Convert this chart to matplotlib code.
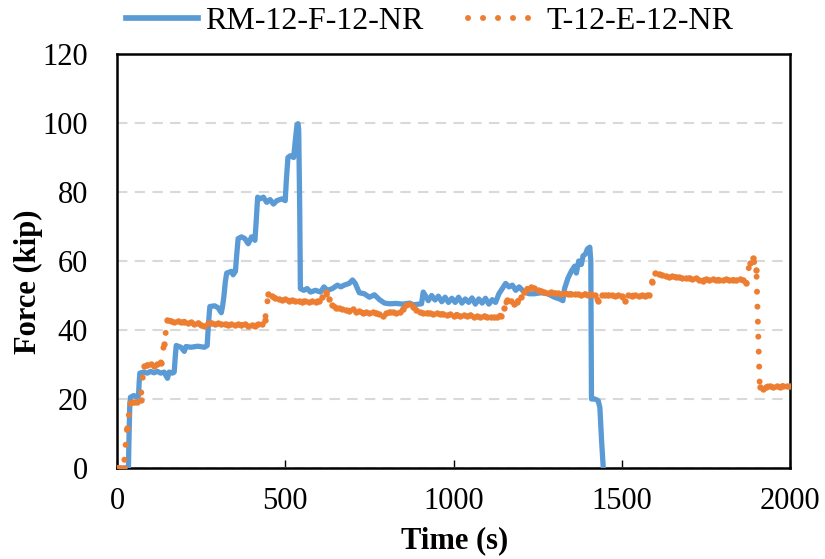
import numpy as np
import matplotlib
matplotlib.use("Agg")
import matplotlib.pyplot as plt
from matplotlib.lines import Line2D

plt.rcParams['font.family'] = ['Liberation Serif', 'DejaVu Serif']

# RM-12-F-12-NR load history (time in s, force in kip)
rm_time = [0, 30, 34, 36, 38, 40, 50, 60, 64, 66, 68, 80, 90, 100, 110, 120, 130, 140, 150, 155,
           165, 170, 173, 176, 190, 200, 205, 220, 240, 260, 268, 272, 276, 290, 300, 310, 314, 318, 322, 326,
           340, 345, 352, 356, 360, 370, 380, 390, 400, 410, 414, 418, 425, 435, 445, 455, 465, 475, 490, 500,
           503, 508, 515, 525, 530, 535, 538, 540, 543, 545, 555, 565, 575, 590, 605, 615, 625, 640, 655, 665,
           675, 690, 700, 708, 720, 735, 750, 765, 780, 795, 810, 830, 850, 870, 880, 905, 910, 915, 925, 935,
           945, 955, 965, 975, 985, 995, 1005, 1015, 1025, 1035, 1045, 1055, 1065, 1075, 1085, 1095, 1105, 1115, 1125, 1135,
           1145, 1155, 1165, 1175, 1185, 1195, 1210, 1225, 1240, 1260, 1280, 1300, 1315, 1325, 1330, 1340, 1350, 1360, 1365, 1372,
           1380, 1385, 1392, 1398, 1405, 1408, 1410, 1420, 1430, 1435, 1440, 1445]
rm_force = [0, 0, 0, 10, 18, 20.5, 21, 20.5, 21, 25, 27.5, 27.8, 27.5, 28, 27.6, 28, 27.5, 27.8, 26, 27.8,
            27.5, 27.8, 32, 35.5, 35, 33.8, 35.2, 35, 35.3, 35, 35.5, 42, 46.8, 47, 46.5, 45, 47, 50, 54, 56.5,
            57, 56, 57, 62, 66.5, 67, 66.5, 65, 67, 66, 72, 78.5, 78, 78.5, 77, 77.8, 76.5, 77.5, 78, 77.5,
            83, 90, 90.5, 90, 95, 99.5, 99.8, 98, 75, 52, 51.5, 52, 51, 51.5, 51, 52.5, 51.5, 52, 53, 52.5,
            53, 53.5, 54.5, 53.5, 50.8, 50.5, 49.5, 50.2, 48.8, 47.8, 47.6, 47.7, 47.5, 47.8, 47.3, 47.6, 51, 50.2, 48.5, 50,
            48.7, 49.8, 48.2, 49.5, 48, 49.2, 48, 49.5, 47.8, 49, 48, 49.3, 47.5, 49, 47.8, 49.2, 47.5, 48.8, 48, 50.5,
            52, 53.5, 52.5, 53, 51.5, 52.5, 51, 50.5, 50.5, 50.8, 50.5, 49.5, 49, 48.5, 52, 55, 57, 58.5, 56.5, 60,
            59, 61.5, 62, 63.5, 64, 60, 20, 20, 19.5, 17.5, 8, 0]

# T-12-E-12-NR load history, sampled every 10 s from 0 to 2000 s
t_time = np.arange(0, 2001, 10)
t_force = [0, 0, 0, 11.6, 18.8, 19, 19.2, 19.8, 29.5, 29.8,
           30, 29.6, 30, 30.4, 36, 42.8, 42.6, 42.3, 42.5, 42.2,
           42.4, 42.1, 42.3, 41.8, 42, 41.5, 41.3, 41.9, 42, 41.7,
           41.9, 41.6, 41.8, 41.5, 41.7, 41.4, 41.6, 41.5, 41.7, 41.3,
           41.5, 41.2, 41.6, 41.8, 43, 50.5, 49.8, 49.2, 49, 48.7,
           48.9, 48.5, 48.6, 48.3, 48.5, 48.2, 48.4, 48.1, 48.3, 48,
           48.5, 49.5, 51, 49, 47.2, 46.5, 46.3, 46, 45.8, 45.6,
           46, 45.2, 45.5, 45, 45.3, 44.9, 45.2, 44.8, 44.6, 44,
           45, 45.1, 45.3, 45, 45.2, 46, 47.3, 47.5, 46.8, 45.8,
           45.3, 45, 44.8, 45, 44.6, 44.8, 44.5, 44.7, 44.3, 44.5,
           44.2, 44.4, 44, 44.3, 44.1, 44.3, 43.9, 44.1, 43.8, 44,
           43.8, 43.9, 43.7, 43.9, 44.2, 46.5, 48.6, 48.3, 47.6, 48.2,
           49.5, 51, 52, 52.4, 52.2, 51.6, 51.2, 51, 50.8, 50.9,
           50.6, 50.7, 50.5, 50.6, 50.4, 50.5, 50.3, 50.5, 50.2, 50.4,
           50.1, 50.3, 50, 48.5, 50, 50.2, 50, 50.1, 49.9, 50.1,
           49.8, 48.4, 50, 49.9, 50.1, 49.9, 50, 49.8, 50.2, 54,
           56.6, 56.3, 55.8, 55.6, 55.5, 55.6, 55.3, 55.4, 55.1, 55.2,
           55, 54.9, 55, 54.5, 54.2, 54.8, 54.6, 54.7, 54.4, 54.6,
           54.5, 54.7, 54.4, 54.5, 54.6, 54.9, 54.4, 53.6, 59.5, 60.8,
           57.5, 23.6, 22.8, 23.6, 23.7, 23.5, 23.8, 23.6, 23.8, 23.7,
           23.9]

x_ticks = [0, 500, 1000, 1500, 2000]
y_ticks = [0, 20, 40, 60, 80, 100, 120]

blue = '#5B9BD5'
orange = '#ED7D31'
dots = (0, (0.01, 2.5))

fig = plt.figure(figsize=(8.25, 5.59), dpi=100)
ax = fig.add_axes([0.1418, 0.1628, 0.8158, 0.7406])

ax.plot(rm_time, rm_force, color=blue, lw=3.8, solid_joinstyle='round', zorder=3)
ax.plot(t_time, t_force, color=orange, lw=4.3, linestyle=dots, dash_capstyle='round',
        marker='o', ms=4.6, mew=0, zorder=4)

ax.set_xlim(0, 2000)
ax.set_ylim(0, 120)
ax.set_xticks(x_ticks)
ax.set_yticks(y_ticks)
ax.tick_params(axis='x', direction='in', length=6, width=1, pad=14, labelsize=22)
ax.tick_params(axis='y', length=0, pad=21, labelsize=22)

ax.yaxis.grid(True, color='#D9D9D9', lw=1.5, linestyle=(0, (5, 3.5)))
ax.set_axisbelow(True)
for s in ax.spines.values():
    s.set_linewidth(1.8)
    s.set_color('black')

ax.set_xlabel('Time (s)', fontsize=22, fontweight='bold')
ax.set_ylabel('Force (kip)', fontsize=22, fontweight='bold')
ax.xaxis.set_label_coords(0.502, -0.140)
ax.yaxis.set_label_coords(-0.1095, 0.449)

handles = [Line2D([], [], color=blue, lw=4.1),
           Line2D([], [], color=orange, lw=4.3, linestyle=dots, dash_capstyle='round')]
fig.legend(handles, ['RM-12-F-12-NR', 'T-12-E-12-NR'], loc='center', ncol=2,
           bbox_to_anchor=(0.521, 0.962), frameon=False, fontsize=23,
           handlelength=2.25, handletextpad=0.22, columnspacing=1.4,
           borderpad=0, borderaxespad=0)

fig.savefig('out.png', dpi=100)
